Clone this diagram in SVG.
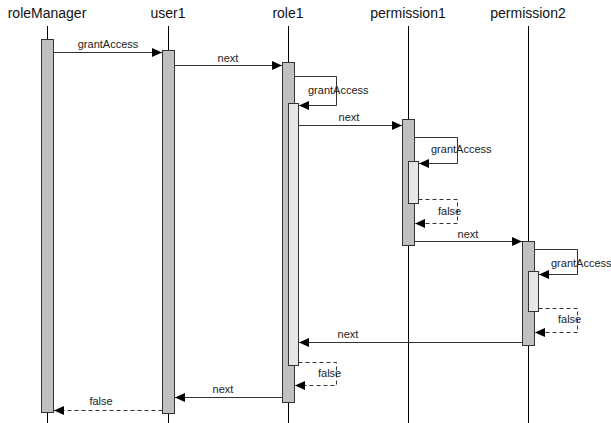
<svg xmlns="http://www.w3.org/2000/svg" width="611" height="423" viewBox="0 0 611 423">
  <defs>
    <marker id="arrow" markerUnits="userSpaceOnUse" markerWidth="10" markerHeight="9" refX="10" refY="4.5" orient="auto">
      <path d="M0,0 L10,4.5 L0,9 z" fill="#000"/>
    </marker>
    <style>
      .title { font-family: "Liberation Sans", Arial, sans-serif; font-size: 14px; fill: #111; text-anchor: middle; }
      .label { font-family: "Liberation Sans", Arial, sans-serif; font-size: 11px; fill: #222; }
      .mid { text-anchor: middle; }
      .lifeline { stroke: #000; stroke-width: 1; }
      .act { fill: #c0c0c0; stroke: #333; stroke-width: 1; }
      .act-inner { fill: #e6e6e6; stroke: #333; stroke-width: 1; }
      .msg { fill: none; stroke: #333; stroke-width: 1; marker-end: url(#arrow); }
      .ret { fill: none; stroke: #333; stroke-width: 1; stroke-dasharray: 4 3; marker-end: url(#arrow); }
    </style>
  </defs>
  <rect width="611" height="423" fill="#fff"/>

  <!-- participants: header, lifeline and activation bars -->
  <g id="roleManager">
    <text class="title" x="47" y="18">roleManager</text>
    <line class="lifeline" x1="47.5" y1="26" x2="47.5" y2="423"/>
    <rect class="act" x="41.5" y="39.5" width="12" height="373"/>
  </g>
  <g id="user1">
    <text class="title" x="168" y="18">user1</text>
    <line class="lifeline" x1="168.5" y1="26" x2="168.5" y2="423"/>
    <rect class="act" x="162.5" y="50.5" width="12" height="363"/>
  </g>
  <g id="role1">
    <text class="title" x="288" y="18">role1</text>
    <line class="lifeline" x1="288.5" y1="26" x2="288.5" y2="423"/>
    <rect class="act" x="282.5" y="62.5" width="12" height="340"/>
    <rect class="act-inner" x="288.5" y="103.5" width="10" height="262"/>
  </g>
  <g id="permission1">
    <text class="title" x="408" y="18">permission1</text>
    <line class="lifeline" x1="408.5" y1="26" x2="408.5" y2="423"/>
    <rect class="act" x="402.5" y="119.5" width="12" height="126"/>
    <rect class="act-inner" x="408.5" y="161.5" width="10" height="42"/>
  </g>
  <g id="permission2">
    <text class="title" x="528" y="18">permission2</text>
    <line class="lifeline" x1="528.5" y1="26" x2="528.5" y2="423"/>
    <rect class="act" x="522.5" y="241.5" width="12" height="104"/>
    <rect class="act-inner" x="528.5" y="271.5" width="10" height="40"/>
  </g>

  <!-- messages -->
  <g id="connectors">
    <path class="msg" d="M53.5,52.5 H162"/>
    <path class="msg" d="M174.5,65.5 H282"/>
    <path class="msg" d="M294.5,76.5 H336.5 V105.5 H299"/>
    <path class="msg" d="M298.5,125.5 H402"/>
    <path class="msg" d="M414.5,137.5 H457.5 V163.5 H419"/>
    <path class="ret" d="M418.5,199.5 H457.5 V223.5 H415"/>
    <path class="msg" d="M414.5,241.5 H522"/>
    <path class="msg" d="M534.5,249.5 H577.5 V274.5 H539"/>
    <path class="ret" d="M538.5,308.5 H577.5 V332.5 H535"/>
    <path class="msg" d="M522.5,342.5 H299"/>
    <path class="ret" d="M298.5,362.5 H336.5 V385.5 H295"/>
    <path class="msg" d="M282.5,397.5 H175"/>
    <path class="ret" d="M162.5,410.5 H54"/>

    <text class="label mid" x="108" y="48">grantAccess</text>
    <text class="label mid" x="228" y="62">next</text>
    <text class="label" x="308" y="94">grantAccess</text>
    <text class="label mid" x="349" y="121">next</text>
    <text class="label" x="431" y="153">grantAccess</text>
    <text class="label" x="438" y="215">false</text>
    <text class="label mid" x="468" y="238">next</text>
    <text class="label" x="551" y="267">grantAccess</text>
    <text class="label" x="558" y="323">false</text>
    <text class="label mid" x="348" y="338">next</text>
    <text class="label" x="318" y="377">false</text>
    <text class="label mid" x="223" y="393">next</text>
    <text class="label mid" x="101" y="405">false</text>
  </g>
</svg>
